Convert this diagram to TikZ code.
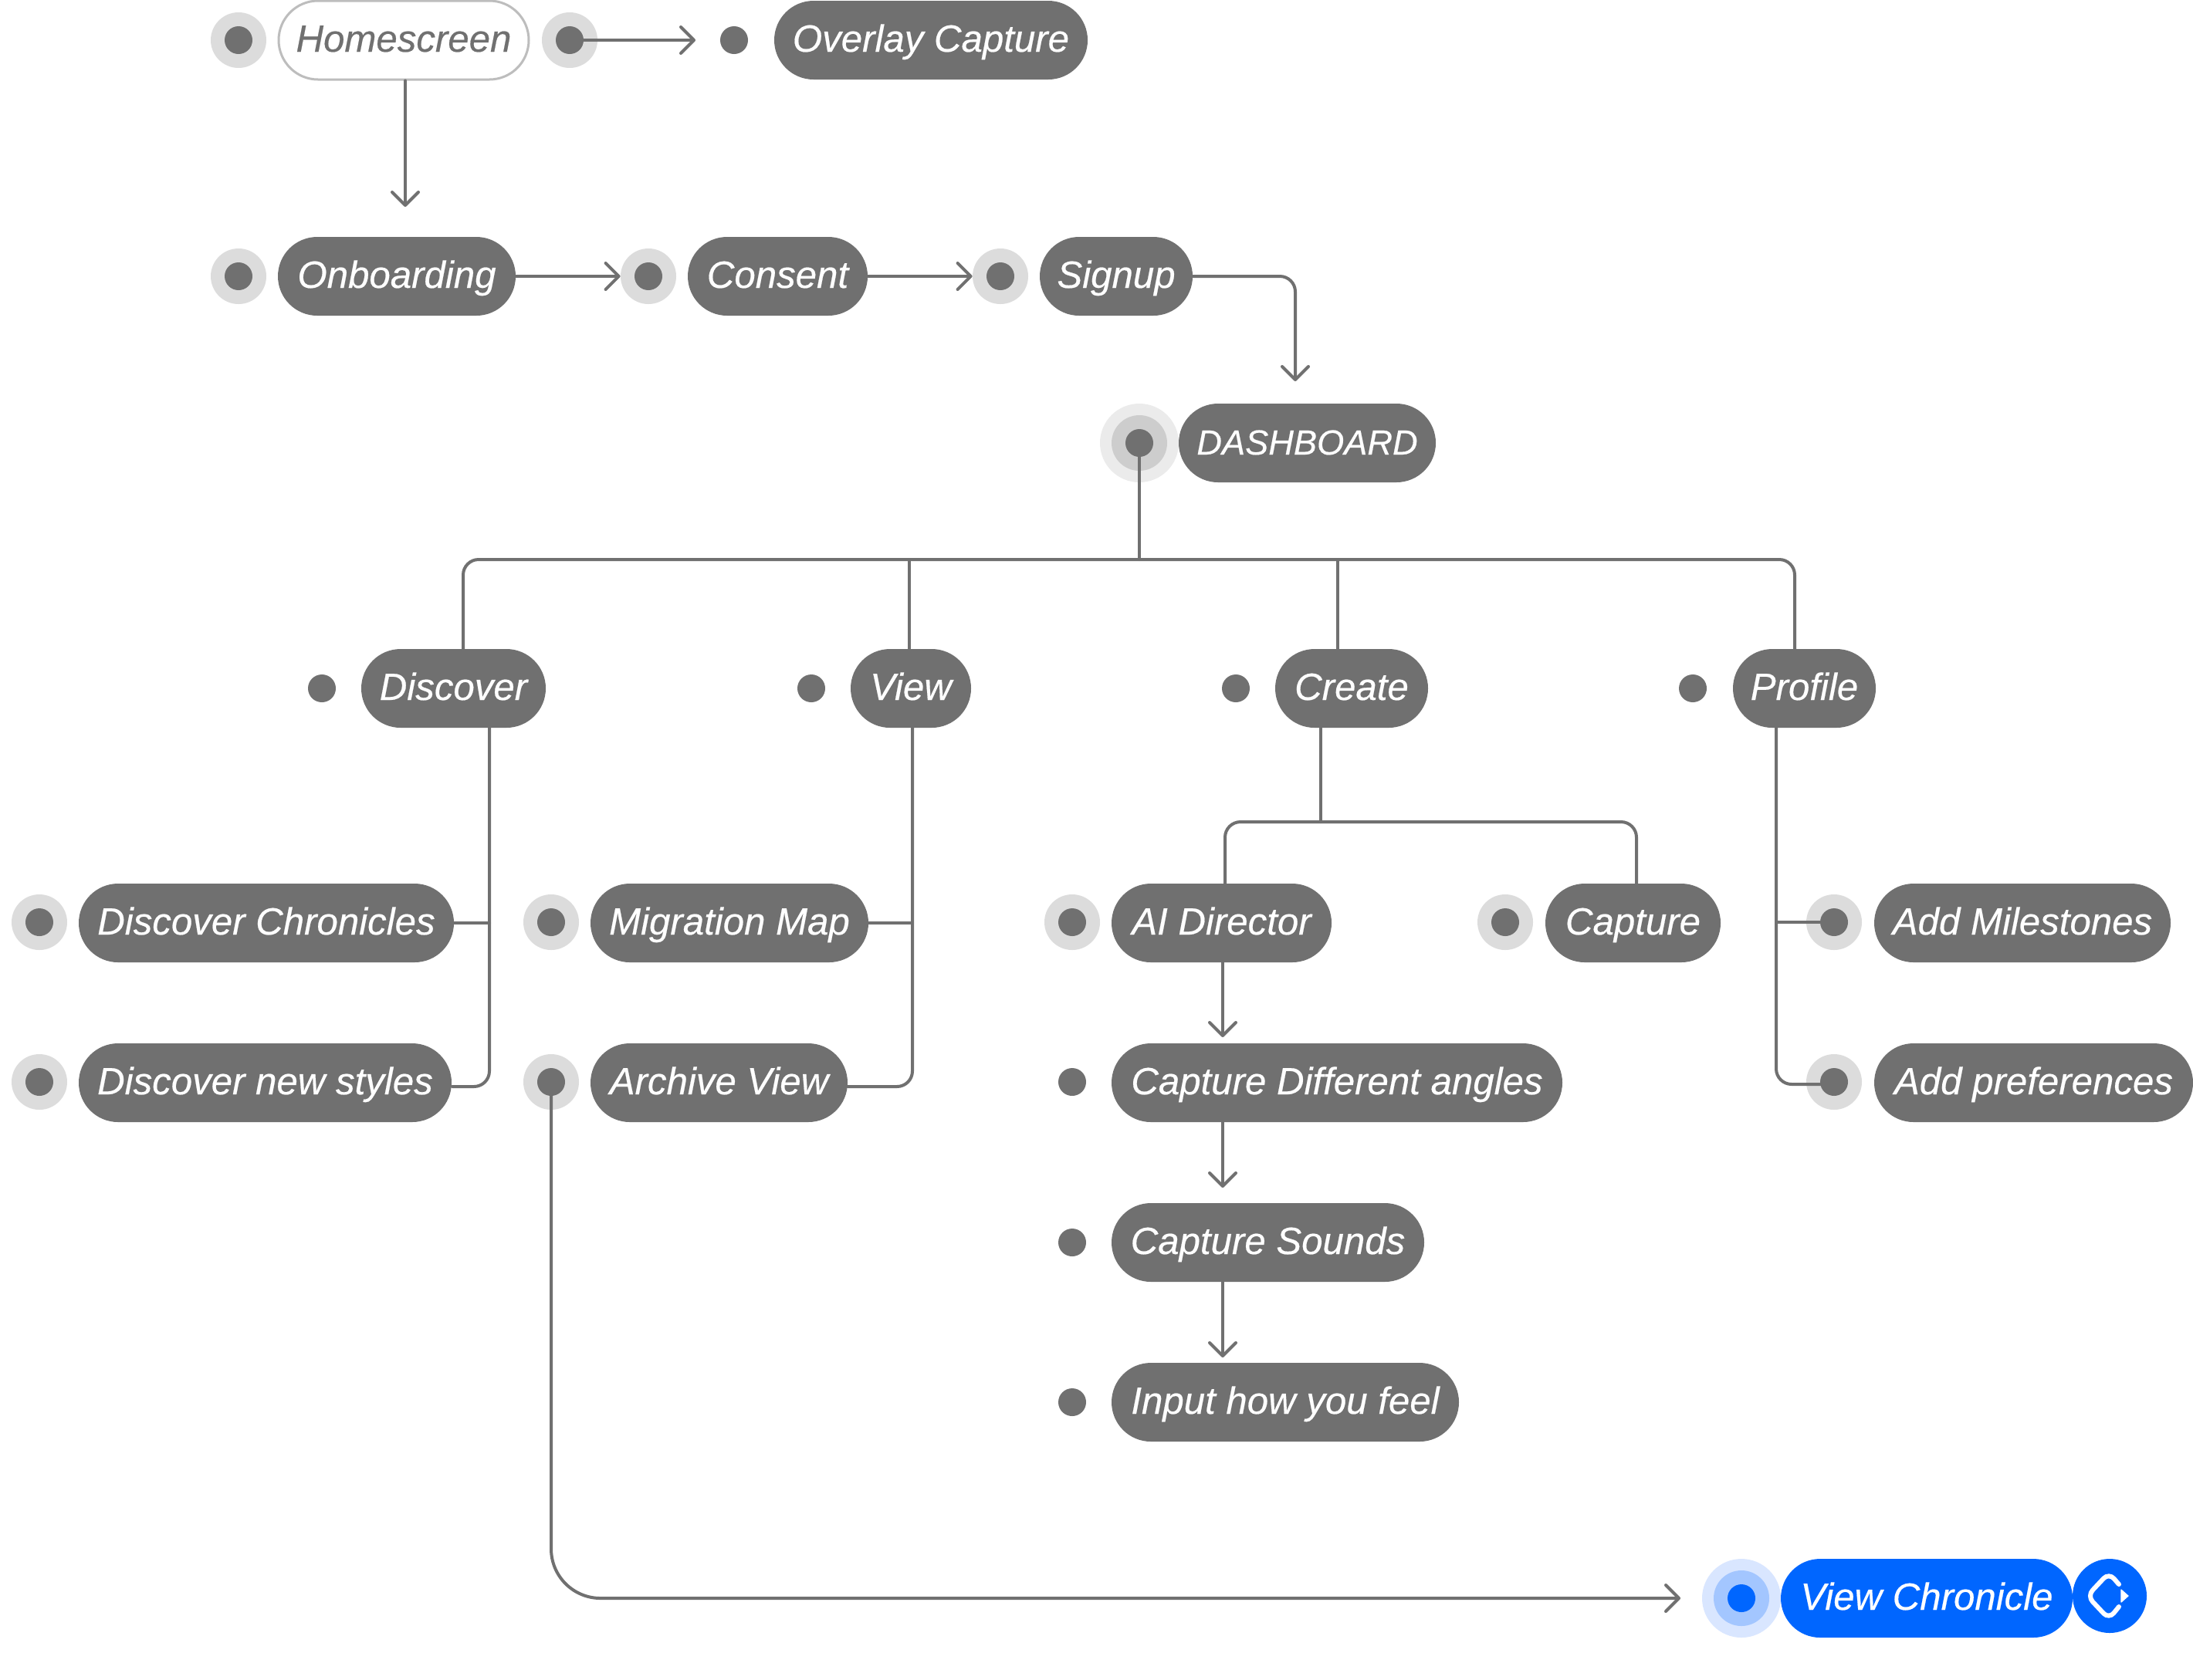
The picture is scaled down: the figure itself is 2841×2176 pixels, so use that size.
\documentclass[tikz,border=0pt]{standalone}
\usepackage{fontspec}
\setmainfont[ItalicFeatures={FakeBold=0.4}]{Liberation Sans}
\usetikzlibrary{arrows.meta,calc}
\definecolor{ink}{HTML}{707070}
\definecolor{linec}{HTML}{707070}
\definecolor{haloc}{HTML}{DCDCDC}
\definecolor{haloA}{HTML}{EBEBEB}
\definecolor{haloB}{HTML}{CDCDCD}
\definecolor{blueC}{HTML}{0066FF}
\definecolor{blueA}{HTML}{D9E6FF}
\definecolor{blueB}{HTML}{A3C6FF}
\definecolor{homeb}{HTML}{BDBDBD}
\tikzset{
  pillbox/.style={rectangle,rounded corners=25.5pt,fill=ink,text=white,minimum height=51pt,inner sep=0pt,
    text height=15pt,text depth=0pt,font=\fontsize{24.6}{28}\selectfont\itshape},
  homebox/.style={pillbox,fill=white,draw=homeb,line width=1.5pt,text=ink},
  bluebox/.style={pillbox,fill=blueC},
  dotc/.style={circle,minimum size=18pt,inner sep=0pt,fill=ink},
  ring/.style={circle,inner sep=0pt,minimum size=36pt,fill=haloc},
  conn/.style={draw=linec,line width=2pt,line cap=round},
  arr/.style={conn,-{Straight Barb[length=8.5pt,width=17pt,line width=2pt,round]}},
  rc/.style={rounded corners=10pt},
  rcbig/.style={rounded corners=32pt},
}
\newcommand{\pill}[6][pillbox]{\node[#1,minimum width={(#4-#3)*0.5pt}] (#2) at ({(#3+#4)/2},#5) {#6};}
\newcommand{\halodot}[3]{\node[ring] (#1h) at (#2,#3) {};\node[dotc] (#1) at (#2,#3) {};}
\newcommand{\plaindot}[3]{\node[dotc] (#1) at (#2,#3) {};}
\begin{document}
\begin{tikzpicture}[x=0.5pt,y=-0.5pt]
\path[fill=white,use as bounding box] (0,0) rectangle (2841,2176);
% row 1
\halodot{dHome}{309}{52}
\pill[homebox]{home}{361}{685}{52}{Homescreen}
\halodot{dHomeR}{738}{52}
\plaindot{dOver}{951}{52}
\pill{over}{1003}{1409}{52}{Overlay Capture}
% row 2
\halodot{dOnb}{309}{358}
\pill{onb}{360}{668}{358}{Onboarding}
\halodot{dCons}{840}{358}
\pill{cons}{891}{1124}{358}{Consent}
\halodot{dSign}{1296}{358}
\pill{sign}{1347}{1545}{358}{Signup}
% dashboard
\node[circle,inner sep=0pt,minimum size=51pt,fill=haloA] (dDashO) at (1476,574) {};
\node[circle,inner sep=0pt,minimum size=36pt,fill=haloB] (dDashM) at (1476,574) {};
\plaindot{dDash}{1476}{574}
\pill[pillbox,font=\fontsize{22.6}{27}\selectfont\itshape]{dash}{1527}{1860}{574}{DASHBOARD}
% section row
\plaindot{dDisc}{417}{892}
\pill{disc}{468}{707}{892}{Discover}
\plaindot{dView}{1051}{892}
\pill{view}{1102}{1258}{892}{View}
\plaindot{dCrea}{1601}{892}
\pill{crea}{1652}{1850}{892}{Create}
\plaindot{dProf}{2193}{892}
\pill{prof}{2245}{2430}{892}{Profile}
% row 1196
\halodot{dDC}{51}{1195}
\pill{dc}{102}{588}{1196}{Discover Chronicles}
\halodot{dMig}{714}{1195}
\pill{mig}{765}{1125}{1196}{Migration Map}
\halodot{dAI}{1389}{1195}
\pill{ai}{1440}{1725}{1196}{AI Director}
\halodot{dCap}{1950}{1195}
\pill{cap}{2002}{2229}{1196}{Capture}
\halodot{dMile}{2376}{1195}
\pill{mile}{2428}{2812}{1196}{Add Milestones}
% row 1403
\halodot{dNS}{51}{1402}
\pill{ns}{102}{585}{1403}{Discover new styles}
\halodot{dArch}{714}{1402}
\pill{arch}{765}{1098}{1403}{Archive View}
\plaindot{dAng}{1389}{1402}
\pill{ang}{1440}{2024}{1403}{Capture Different angles}
\halodot{dPref}{2376}{1402}
\pill{pref}{2428}{2841}{1403}{Add preferences}
% lower
\plaindot{dSnd}{1389}{1610}
\pill{snd}{1440}{1845}{1610}{Capture Sounds}
\plaindot{dFeel}{1389}{1817}
\pill{feel}{1440}{1890}{1817}{Input how you feel}
% blue
\node[circle,inner sep=0pt,minimum size=51pt,fill=blueA] (dChrO) at (2256,2071) {};
\node[circle,inner sep=0pt,minimum size=36pt,fill=blueB] (dChrM) at (2256,2071) {};
\node[dotc,fill=blueC] (dChr) at (2256,2071) {};
\pill[bluebox]{chr}{2307}{2685}{2071}{View Chronicle}
\node[circle,inner sep=0pt,minimum size=48pt,fill=blueC] (icon) at (2733,2068) {};
\draw[white,line width=3pt,line cap=round,rounded corners=5pt] (2745,2053) -- (2732,2038) -- (2704,2068) -- (2732,2098) -- (2745,2082);
\path[fill=white,draw=white,line width=0.6pt,line join=round] (2748,2060) -- (2757,2068) -- (2748,2076) -- cycle;
% coordinates
\coordinate (tipHome) at (525,268);
\coordinate (tipOver) at (901,52);
\coordinate (tipDash) at (1678,494);
\coordinate (busY) at (1476,725);
\coordinate (busL) at (600,725);
\coordinate (busR) at (2325,725);
\coordinate (discTop) at (600,841);
\coordinate (viewTop) at (1178,841);
\coordinate (creaTop) at (1733,841);
\coordinate (profTop) at (2325,841);
\coordinate (discBot) at (634,943);
\coordinate (nsEnd) at (586,1408);
\coordinate (viewBot) at (1182,943);
\coordinate (archEnd) at (1098,1408);
\coordinate (creaBot) at (1711,943);
\coordinate (creaBus) at (1711,1065);
\coordinate (aiTop) at (1587,1145);
\coordinate (capTop) at (2120,1145);
\coordinate (aiBot) at (1584,1247);
\coordinate (aiTip) at (1584,1344);
\coordinate (angBot) at (1584,1454);
\coordinate (angTip) at (1584,1539);
\coordinate (sndBot) at (1584,1661);
\coordinate (sndTip) at (1584,1759);
\coordinate (profBot) at (2301,943);
\coordinate (prefEnd) at (2376,1405);
\coordinate (chrTip) at (2177,2071);
% connectors
\draw[arr] (home.south -| tipHome) -- (tipHome);
\draw[arr] (dHomeR.east) -- (tipOver);
\draw[arr] (onb.east) -- (dConsh.west);
\draw[arr] (cons.east) -- (dSignh.west);
\draw[arr,rc] (sign.east) -| (tipDash);
\draw[conn] (dDash.south) -- (busY);
\draw[conn,rc] (discTop) -- (busL) -- (busR) -- (profTop);
\draw[conn] (viewTop) -- (viewTop |- busY);
\draw[conn] (creaTop) -- (creaTop |- busY);
\draw[conn,rc] (discBot) |- (nsEnd);
\draw[conn] (dc.east) -- (dc.east -| discBot);
\draw[conn,rc] (viewBot) |- (archEnd);
\draw[conn] (mig.east) -- (mig.east -| viewBot);
\draw[conn] (creaBot) -- (creaBus);
\draw[conn,rc] (aiTop) |- (creaBus) -| (capTop);
\draw[arr] (aiBot) -- (aiTip);
\draw[arr] (angBot) -- (angTip);
\draw[arr] (sndBot) -- (sndTip);
\draw[conn,rc] (profBot) |- (prefEnd);
\draw[conn] (dMile.center -| profBot) -- (dMile.west);
\draw[arr,rcbig] (dArch.south) |- (chrTip);
\end{tikzpicture}
\end{document}
